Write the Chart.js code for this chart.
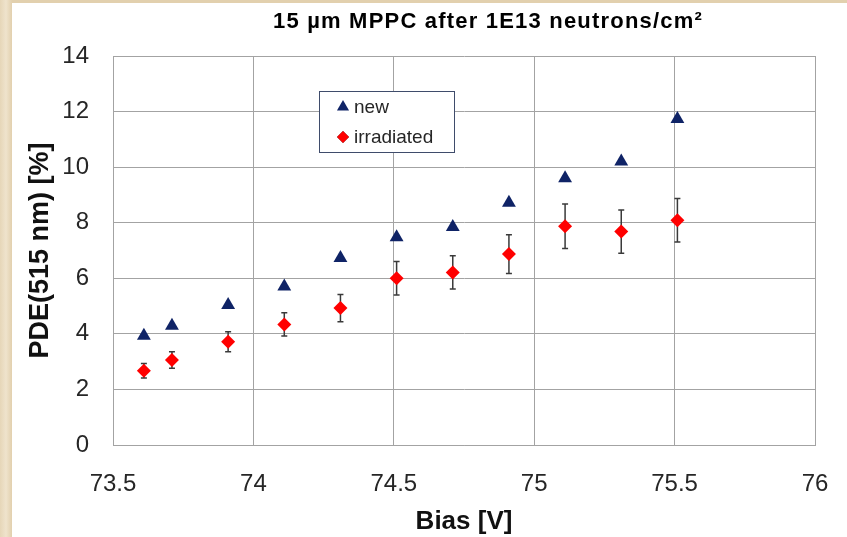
<!DOCTYPE html>
<html>
<head>
<meta charset="utf-8">
<script src="https://cdn.jsdelivr.net/npm/chart.js@4.4.1/dist/chart.umd.min.js"></script>
<style>
  html, body { margin: 0; padding: 0; }
  body {
    width: 847px; height: 537px; overflow: hidden;
    background: linear-gradient(90deg, #e6d6b8 0px, #efe3cc 6px, #e2d0ae 12px);
  }
  #wrap {
    position: absolute; left: 12px; top: 3px;
    width: 835px; height: 534px; background: #ffffff;
  }
</style>
</head>
<body>
<div id="wrap"><canvas id="pdeChart" width="835" height="534"></canvas></div>
<script>
// ======================= DATA =======================
const chartTitle = '15 \u00b5m MPPC after 1E13 neutrons/cm\u00b2';
const biasValues = [73.61, 73.71, 73.91, 74.11, 74.31, 74.51, 74.71, 74.91, 75.11, 75.31, 75.51];
const pdeNew = [3.93, 4.29, 5.04, 5.7, 6.73, 7.48, 7.85, 8.72, 9.6, 10.2, 11.73];
const pdeIrradiated = [2.67, 3.06, 3.72, 4.34, 4.93, 6.0, 6.21, 6.87, 7.87, 7.68, 8.09];
const errIrradiated = [0.26, 0.3, 0.36, 0.42, 0.49, 0.6, 0.6, 0.7, 0.8, 0.78, 0.78];
const xTickLabels = ['73.5', '74', '74.5', '75', '75.5', '76'];
const yTickLabels = ['0', '2', '4', '6', '8', '10', '12', '14'];

const colors = {
  navy: '#0f2366',
  red: '#ff0000',
  grid: '#a3a3a3',
  text: '#262626',
  errorBar: '#3a3a3a',
  legendBorder: '#3f4c6b'
};

const toPoints = (xs, ys) => xs.map((x, i) => ({ x: x, y: ys[i] }));

// error bars for the irradiated series, drawn under the markers
const errorBarPlugin = {
  id: 'errorBars',
  beforeDatasetsDraw(chart) {
    const ctx = chart.ctx;
    const xs = chart.scales.x;
    const ys = chart.scales.y;
    ctx.save();
    ctx.strokeStyle = colors.errorBar;
    ctx.lineWidth = 1.5;
    biasValues.forEach((b, i) => {
      const px = xs.getPixelForValue(b);
      const top = ys.getPixelForValue(pdeIrradiated[i] + errIrradiated[i]);
      const bot = ys.getPixelForValue(pdeIrradiated[i] - errIrradiated[i]);
      ctx.beginPath();
      ctx.moveTo(px, top); ctx.lineTo(px, bot);
      ctx.moveTo(px - 3, top); ctx.lineTo(px + 3, top);
      ctx.moveTo(px - 3, bot); ctx.lineTo(px + 3, bot);
      ctx.stroke();
    });
    ctx.restore();
  }
};

// title + boxed legend inside the plot
const decorPlugin = {
  id: 'decor',
  afterDraw(chart) {
    const ctx = chart.ctx;
    ctx.save();
    ctx.fillStyle = '#000';
    ctx.font = 'bold 22px "Liberation Sans", Arial, sans-serif';
    ctx.textAlign = 'center';
    ctx.textBaseline = 'middle';
    if ('letterSpacing' in ctx) ctx.letterSpacing = '1.2px';
    ctx.fillText(chartTitle, 476, 19);
    if ('letterSpacing' in ctx) ctx.letterSpacing = '0px';

    // legend box
    ctx.fillStyle = '#fff';
    ctx.fillRect(307, 88, 135, 61);
    ctx.strokeStyle = colors.legendBorder;
    ctx.lineWidth = 1;
    ctx.strokeRect(307.5, 88.5, 135, 61);

    const rows = [{ y: 104 }, { y: 134 }];
    ctx.textAlign = 'left';
    ctx.font = '19px "Liberation Sans", Arial, sans-serif';
    chart.data.datasets.forEach((ds, i) => {
      Chart.helpers.drawPoint(ctx, {
        pointStyle: ds.pointStyle,
        radius: ds.pointStyle === 'triangle' ? 7 : 6,
        rotation: 0
      }, 331, rows[i].y);
      ctx.fillStyle = ds.backgroundColor;
      ctx.fill();
      ctx.fillStyle = colors.text;
      ctx.fillText(ds.label, 342, rows[i].y + 1);
    });
    ctx.restore();
  }
};

new Chart(document.getElementById('pdeChart'), {
  type: 'scatter',
  data: {
    datasets: [
      {
        label: 'new',
        data: toPoints(biasValues, pdeNew),
        pointStyle: 'triangle',
        pointRadius: 8,
        backgroundColor: colors.navy,
        borderColor: colors.navy,
        borderWidth: 0
      },
      {
        label: 'irradiated',
        data: toPoints(biasValues, pdeIrradiated),
        pointStyle: 'rectRot',
        pointRadius: 7,
        backgroundColor: colors.red,
        borderColor: colors.red,
        borderWidth: 0
      }
    ]
  },
  options: {
    responsive: false,
    animation: false,
    layout: { padding: { left: 0, right: 32, top: 53, bottom: 0 } },
    plugins: {
      legend: { display: false },
      tooltip: { enabled: false }
    },
    scales: {
      x: {
        type: 'linear',
        min: 73.5,
        max: 76,
        afterFit: (axis) => {
          axis.height = 92;
          axis.paddingLeft = 0;
          axis.paddingRight = 0;
        },
        afterBuildTicks: (axis) => {
          axis.ticks = xTickLabels.map((t) => ({ value: parseFloat(t) }));
        },
        grid: { color: colors.grid, drawTicks: false, lineWidth: 1 },
        border: { color: colors.grid },
        ticks: {
          color: colors.text,
          padding: 25,
          font: { size: 24, family: '"Liberation Sans", Arial, sans-serif' },
          callback: (v, i) => xTickLabels[i]
        },
        title: {
          display: true,
          text: 'Bias [V]',
          color: '#111',
          padding: { top: 0, bottom: 0 },
          font: { size: 26, weight: 'bold', family: '"Liberation Sans", Arial, sans-serif' }
        }
      },
      y: {
        type: 'linear',
        min: 0,
        max: 14,
        afterFit: (axis) => { axis.width = 101; },
        afterBuildTicks: (axis) => {
          axis.ticks = yTickLabels.map((t) => ({ value: parseFloat(t) }));
        },
        grid: { color: colors.grid, drawTicks: false, lineWidth: 1 },
        border: { color: colors.grid },
        ticks: {
          color: colors.text,
          padding: 24,
          font: { size: 24, family: '"Liberation Sans", Arial, sans-serif' },
          callback: (v, i) => yTickLabels[i]
        },
        title: {
          display: true,
          text: 'PDE(515 nm) [%]',
          color: '#111',
          padding: { top: 12, bottom: 0 },
          font: { size: 27, weight: 'bold', family: '"Liberation Sans", Arial, sans-serif' }
        }
      }
    }
  },
  plugins: [errorBarPlugin, decorPlugin]
});
</script>
</body>
</html>
